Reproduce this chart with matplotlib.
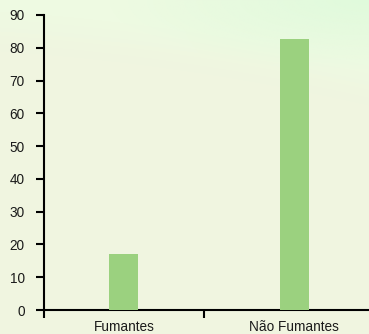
import numpy as np
import matplotlib
matplotlib.use("Agg")
import matplotlib.pyplot as plt
from matplotlib.colors import to_rgb

categories = ["Fumantes", "Não Fumantes"]
values = [17.1, 82.6]
y_ticks = [0, 10, 20, 30, 40, 50, 60, 70, 80, 90]

plt.rcParams['font.family'] = ['Liberation Sans', 'DejaVu Sans']

W, H = 369, 334
fig = plt.figure(figsize=(W / 100, H / 100), dpi=100)

# soft background: pale cream-green with a minty glow towards the top right
bg = fig.add_axes([0, 0, 1, 1], zorder=-10)
yy, xx = np.mgrid[0:H, 0:W]
base = np.array(to_rgb("#f0f5e0"))
mint = np.array(to_rgb("#e0fadc"))
light = np.array(to_rgb("#eefae2"))
# curved boundary sweeping from upper-left down to the right
curve = 20 + 0.0004 * xx ** 2 + 0.12 * xx
band = np.clip(1 - (yy - curve * 0.55) / 40, 0, 1)
corner = np.clip(1 - np.hypot((xx - W) / 260, yy / 70), 0, 1)
t1 = band[..., None]
img = base * (1 - t1) + light * t1
t2 = corner[..., None]
img = img * (1 - t2) + mint * t2
bg.imshow(img, aspect="auto", extent=[0, W, H, 0])
bg.axis("off")

ax = fig.add_axes([44 / W, 24 / H, (W - 44) / W, 295 / H])
ax.patch.set_alpha(0)

x = np.arange(len(categories))
ax.bar(x, values, width=29 / 170, color="#9bd17f", zorder=3)

ax.set_ylim(0, 90)
ax.set_xlim(-0.47, 1.44)
ax.set_yticks(y_ticks)
ax.set_yticklabels([str(v) for v in y_ticks])
ax.set_xticks(x)
ax.set_xticklabels(categories)
ax.set_xticks([-0.47, 0.47], minor=True)

for s in ["top", "right"]:
    ax.spines[s].set_visible(False)
for s in ["left", "bottom"]:
    ax.spines[s].set_linewidth(1.5)
    ax.spines[s].set_color("black")

ax.tick_params(axis="y", length=5.5, width=1.5, pad=8.5, labelsize=9.8,
               colors="black", labelcolor="#1a1a1a")
ax.tick_params(axis="x", which="major", length=0, pad=7, labelsize=9.8,
               labelcolor="#1a1a1a")
ax.tick_params(axis="x", which="minor", length=6, width=1.5)

fig.savefig("out.png", dpi=100)
